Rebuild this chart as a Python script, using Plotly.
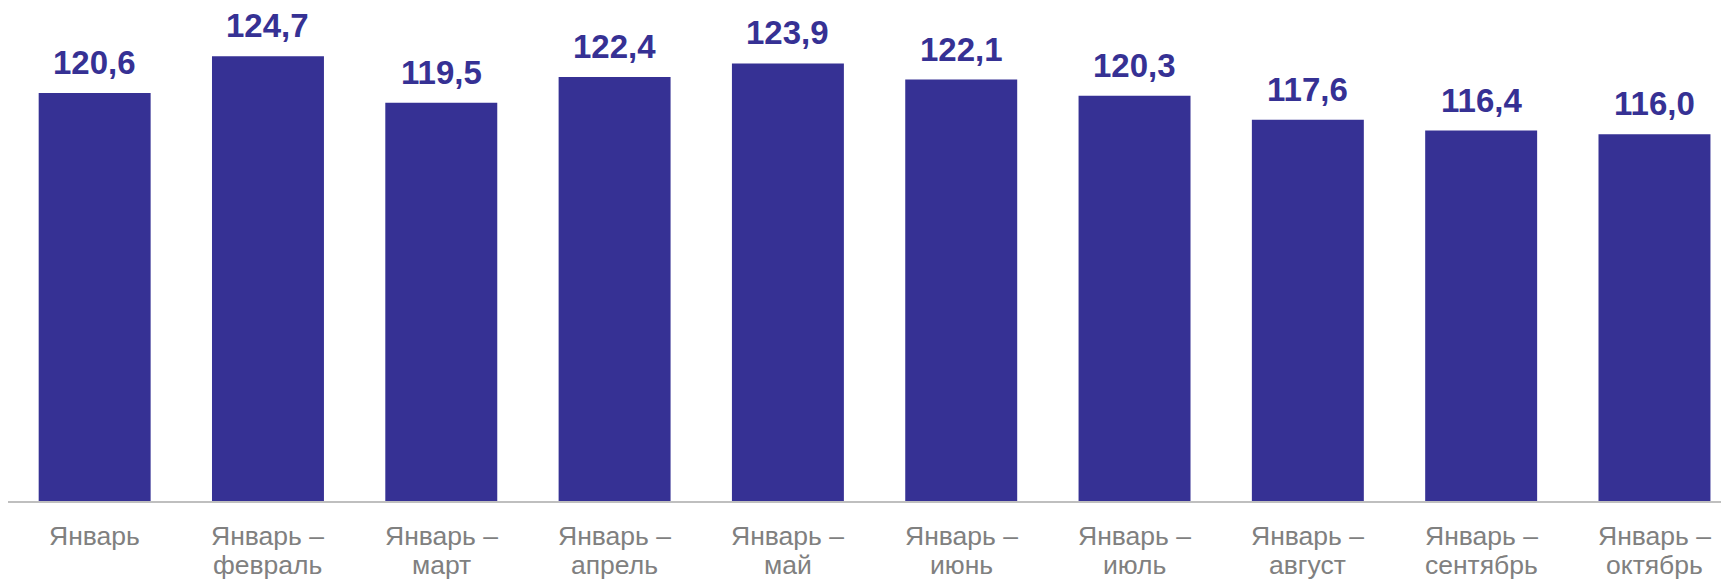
import plotly.graph_objects as go

tick_line1 = ["Январь", "Январь –", "Январь –", "Январь –", "Январь –",
              "Январь –", "Январь –", "Январь –", "Январь –", "Январь –"]
tick_line2 = ["", "февраль", "март", "апрель", "май", "июнь", "июль", "август",
              "сентябрь", "октябрь"]
values = [120.6, 124.7, 119.5, 122.4, 123.9, 122.1, 120.3, 117.6, 116.4, 116.0]
value_labels = ["120,6", "124,7", "119,5", "122,4", "123,9", "122,1", "120,3", "117,6", "116,4", "116,0"]

BAR = "#363194"
TICK = "#808080"
FONT = "Liberation Sans, Arial"

x_idx = list(range(len(values)))
fig = go.Figure(go.Bar(x=x_idx, y=values, marker=dict(color=BAR, line=dict(width=0)),
                       width=0.646, hoverinfo="skip"))

for i, (v, t) in enumerate(zip(values, value_labels)):
    fig.add_annotation(x=i, y=v, text=f"<b>{t}</b>", showarrow=False, yanchor="bottom",
                       yshift=10, font=dict(family=FONT, size=33, color=BAR))

for i, (a, b) in enumerate(zip(tick_line1, tick_line2)):
    fig.add_annotation(x=i, xref="x", y=0, yref="paper", text=a, showarrow=False,
                       yanchor="top", yshift=-18, font=dict(family=FONT, size=26.5, color=TICK))
    if b:
        fig.add_annotation(x=i, xref="x", y=0, yref="paper", text=b, showarrow=False,
                           yanchor="top", yshift=-46.7, font=dict(family=FONT, size=26.5, color=TICK))

fig.update_layout(
    width=1721, height=571,
    margin=dict(l=0, r=0, t=0, b=78, autoexpand=False),
    plot_bgcolor="white", paper_bgcolor="white",
    showlegend=False,
    font=dict(family=FONT),
)
fig.update_xaxes(range=[-0.5, 9.43], showline=True, linecolor="#BFBFBF", linewidth=2,
                 showgrid=False, ticks="", showticklabels=False, automargin=False)
fig.update_yaxes(range=[75, 130.1], visible=False, showgrid=False, zeroline=False,
                 automargin=False)

fig.write_html("out.html")
